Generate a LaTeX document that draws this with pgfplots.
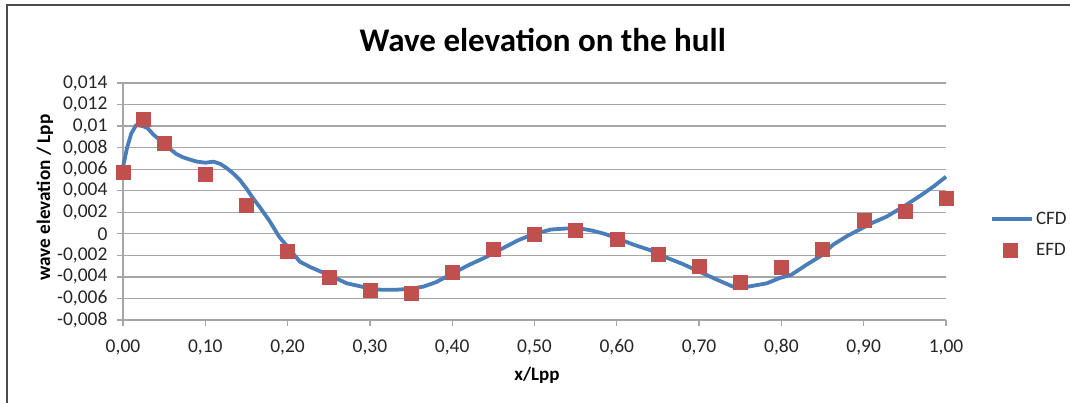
\documentclass[border=0pt]{standalone}
\usepackage{fontspec}
\setmainfont{Carlito}
\usepackage{pgfplots}
\usepackage{pgfplotstable}
\pgfplotsset{compat=1.18}
\definecolor{cfd}{HTML}{4A7EBB}
\definecolor{efd}{HTML}{C0504D}
\definecolor{gridc}{HTML}{A6A6A6}

\pgfplotsset{
  cfdlegend/.style={legend image code/.code={\draw[##1] (0pt,0pt) -- (40pt,0pt);}},
  efdlegend/.style={legend image code/.code={\path (0pt,0pt) (40pt,0pt); \draw[##1] plot coordinates {(18pt,0pt)};}},
}

\pgfplotstableread{
x y
0.000 0.0062
0.005 0.0080
0.010 0.0093
0.016 0.0101
0.024 0.0100
0.030 0.0098
0.037 0.0092
0.045 0.0087
0.053 0.0081
0.060 0.0077
0.065 0.0074
0.073 0.0071
0.081 0.0069
0.090 0.0067
0.100 0.0066
0.110 0.0067
0.118 0.0065
0.126 0.0061
0.134 0.0056
0.142 0.0050
0.150 0.0042
0.158 0.0033
0.166 0.0025
0.178 0.0012
0.190 -0.0003
0.200 -0.0012
0.215 -0.0026
0.228 -0.0031
0.240 -0.0035
0.255 -0.0040
0.272 -0.0046
0.290 -0.0049
0.300 -0.0051
0.315 -0.0052
0.330 -0.0052
0.350 -0.0051
0.365 -0.0049
0.380 -0.0045
0.400 -0.0037
0.420 -0.0029
0.440 -0.0022
0.460 -0.0014
0.480 -0.0006
0.500 0.0000
0.520 0.0004
0.540 0.0005
0.555 0.0005
0.570 0.0003
0.585 0.0000
0.600 -0.0004
0.620 -0.0010
0.640 -0.0015
0.660 -0.0022
0.680 -0.0028
0.700 -0.0035
0.720 -0.0042
0.741 -0.0049
0.760 -0.0049
0.782 -0.0046
0.798 -0.0041
0.812 -0.0038
0.822 -0.0033
0.832 -0.0028
0.847 -0.0021
0.863 -0.0010
0.880 -0.0002
0.900 0.0006
0.910 0.0010
0.928 0.0016
0.952 0.0027
0.970 0.0036
0.985 0.0044
1.000 0.0053
}\cfdtable

\pgfplotstableread{
x y
0.000 0.0057
0.025 0.0106
0.050 0.0084
0.100 0.0055
0.150 0.0027
0.200 -0.0016
0.250 -0.0040
0.300 -0.0052
0.350 -0.0055
0.400 -0.0036
0.450 -0.0014
0.500 0.0000
0.550 0.0003
0.600 -0.0005
0.650 -0.0019
0.700 -0.0030
0.750 -0.0045
0.800 -0.0031
0.850 -0.0014
0.900 0.0013
0.950 0.0021
1.000 0.0033
}\efdtable

\begin{document}
\begin{tikzpicture}[x=1pt,y=1pt]
\path[use as bounding box, fill=white] (0,0) rectangle (1070,403);
\draw[line width=2pt, draw=black!70] (7,-2) -- (7,398) -- (1072,398);
\begin{axis}[
  at={(123pt,83pt)}, anchor=south west,
  scale only axis, width=823pt, height=237pt,
  xmin=0, xmax=1, ymin=-0.008, ymax=0.014,
  axis lines*=left,
  axis line style={gridc, line width=1.3pt},
  xtick={0,0.1,0.2,0.3,0.4,0.5,0.6,0.7,0.8,0.9,1},
  xticklabels={{0,00},{0,10},{0,20},{0,30},{0,40},{0,50},{0,60},{0,70},{0,80},{0,90},{1,00}},
  ytick={-0.008,-0.006,-0.004,-0.002,0,0.002,0.004,0.006,0.008,0.01,0.012,0.014},
  yticklabels={{-0,008},{-0,006},{-0,004},{-0,002},{0},{0,002},{0,004},{0,006},{0,008},{0,01},{0,012},{0,014}},
  scaled y ticks=false,
  ymajorgrids,
  grid style={gridc, line width=1.3pt},
  major tick length=6pt, tick align=outside,
  tick style={gridc, line width=1.3pt},
  ticklabel style={font=\fontsize{19.5}{19.5}\selectfont, text=black!85},
  xticklabel style={yshift=-10pt},
  yticklabel style={xshift=-6pt},
  every axis title shift=0pt,
  title={Wave elevation on the hull},
  title style={at={(axis description cs:0.510,1.131)}, anchor=base, font=\fontsize{33}{33}\selectfont\bfseries},
  xlabel={x/Lpp},
  xlabel style={at={(axis description cs:0.503,-0.232)}, anchor=center, font=\fontsize{19}{19}\selectfont\bfseries},
  ylabel={wave elevation / Lpp},
  ylabel style={at={(axis description cs:-0.0948,0.517)}, anchor=center, font=\fontsize{19.2}{19.2}\selectfont\bfseries},
  legend style={at={(axis description cs:1.0535,0.360)}, anchor=west, draw=none, fill=none,
    inner sep=0pt, row sep=13pt, font=\fontsize{19}{19}\selectfont, text=black!85},
  legend cell align=left,
  clip=false,
]
\addplot[cfd, line width=3.8pt, line join=round, no marks, cfdlegend] table[x=x,y=y] {\cfdtable};
\addlegendentry{CFD}
\addplot[only marks, mark=square*, mark size=7pt, mark options={fill=efd, draw=efd}, efdlegend] table[x=x,y=y] {\efdtable};
\addlegendentry{EFD}
\end{axis}
\end{tikzpicture}
\end{document}
